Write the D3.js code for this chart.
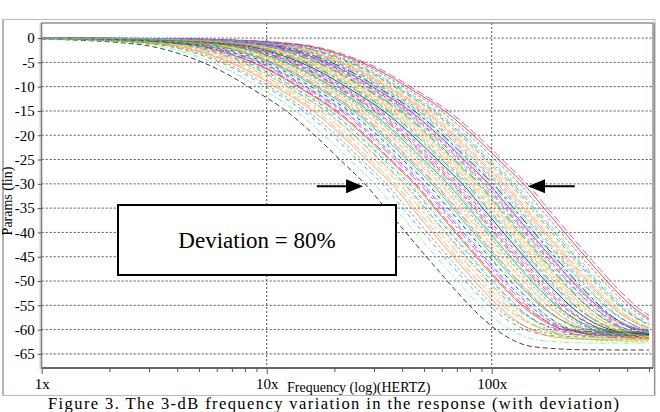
<!DOCTYPE html>
<html>
<head>
<meta charset="utf-8">
<script src="https://cdn.jsdelivr.net/npm/d3@7"></script>
<style>
  body { margin: 0; background: #fff; }
  svg text { font-family: "Liberation Serif", "Times New Roman", Times, "DejaVu Serif", serif !important; }
</style>
</head>
<body>
<svg id="chart" width="660" height="412"></svg>
<script>
// response shape, offset in decades from the -30 crossing
const shapeOffset = [-2.4, -1.6, -1.3, -1.1, -0.95, -0.8, -0.65, -0.5, -0.35, -0.2, -0.1, 0, 0.1, 0.2, 0.3, 0.4, 0.5, 0.6, 0.75, 1.0, 1.4];
const shapeDb = [0, -0.1, -0.4, -0.9, -1.7, -3.6, -6.5, -10.5, -15.0, -21.0, -25.5, -30, -35.5, -41.0, -46.5, -52.0, -57.5, -63.0, -72, -86, -106];

// frequency where each trace crosses -30 (read left to right at the arrows)
const crossing = [27.3, 30.1, 32.6, 34.0, 35.9, 37.1, 38.8, 40.2, 41.0, 42.7, 43.5, 45.2, 46.0, 47.9, 49.1, 50.0,
  51.8, 52.6, 54.3, 55.7, 56.5, 58.4, 59.6, 61.2, 62.0, 63.9, 65.1, 66.8, 68.0, 69.5, 71.3, 72.4,
  74.0, 75.8, 77.1, 78.5, 80.6, 81.7, 83.9, 85.2, 87.0, 88.4, 90.3, 92.1, 93.6, 95.8, 97.2, 99.5,
  101.4, 103.0, 105.6, 107.9, 110.2, 112.8, 115.0, 118.3, 121.2, 124.6, 128.0, 133.1, 138.4, 143.5];

// floor reached at high frequency by each trace
const floorDb = [-64.2, -62.8, -61.6, -61.2, -62.1, -60.8, -61.4, -61.9, -60.6, -61.3, -62.4, -61.0, -60.7, -61.8, -61.2, -60.9,
  -61.5, -62.0, -60.6, -61.1, -61.7, -60.8, -61.3, -62.6, -61.0, -60.7, -61.4, -61.9, -60.9, -61.2, -61.6, -60.6,
  -61.1, -62.2, -60.8, -61.3, -61.5, -60.7, -61.0, -61.8, -60.9, -61.4, -61.2, -60.6, -61.7, -61.0, -60.8, -61.3,
  -61.9, -60.7, -61.1, -61.5, -60.6, -61.2, -60.9, -61.4, -60.7, -61.0, -60.8, -60.6, -60.9, -60.5];

const yTicks = [0, -5, -10, -15, -20, -25, -30, -35, -40, -45, -50, -55, -60, -65];
const xMajor = [1, 10, 100];
const xMajorLabels = ["1x", "10x", "100x"];
const xMinor = [2, 3, 4, 5, 6, 7, 8, 9, 20, 30, 40, 50, 60, 70, 80, 90, 200, 300, 400, 500];

// arrows marking the spread at -30.5
const arrows = [
  { from: 16.7, to: 26.8, level: -30.5 },
  { from: 234, to: 145, level: -30.5 },
];
const note = "Deviation = 80%";
const caption = "Figure 3. The 3-dB frequency variation in the response (with deviation)";

const colors = ["#000000", "#ff00ff", "#00d8f0", "#e8e000", "#ff8c00", "#70f070", "#2030ff", "#ff2020",
  "#9040ff", "#ff80c0", "#00a0a0", "#a0a0ff", "#804000", "#00b000", "#c0c000", "#808080"];
const dashes = ["5,3", "8,3", "3,2", "6,2,2,2", "10,3,3,3", null, "4,4"];

const serif = "'Liberation Serif', 'Times New Roman', serif";

const svg = d3.select("#chart");

const x = d3.scaleLog().domain([1, 521]).range([41.7, 653]);
const y = d3.scaleLinear().domain([-67.9, 3.1]).range([368, 23]);

// outer frame
svg.append("rect")
  .attr("x", 3).attr("y", 19.5)
  .attr("width", 652).attr("height", 376)
  .attr("fill", "none")
  .attr("stroke", "#c8b4bc")
  .attr("stroke-width", 1);
svg.append("line")
  .attr("x1", 3).attr("x2", 3).attr("y1", 19.5).attr("y2", 395)
  .attr("stroke", "#888");

// grid
svg.append("g")
  .selectAll("line")
  .data(yTicks)
  .enter()
  .append("line")
  .attr("x1", x.range()[0]).attr("x2", x.range()[1])
  .attr("y1", d => y(d)).attr("y2", d => y(d))
  .attr("stroke", "#555")
  .attr("stroke-dasharray", "2,2");

svg.append("g")
  .selectAll("line")
  .data(xMajor.slice(1))
  .enter()
  .append("line")
  .attr("x1", d => x(d)).attr("x2", d => x(d))
  .attr("y1", y.range()[1]).attr("y2", y.range()[0])
  .attr("stroke", "#555")
  .attr("stroke-dasharray", "2,2");

// traces
svg.append("clipPath")
  .attr("id", "trace-clip")
  .append("rect")
  .attr("x", x(1)).attr("y", y.range()[1])
  .attr("width", x(500) - x(1)).attr("height", y.range()[0] - y.range()[1]);

const line = d3.line()
  .x(d => x(d.f))
  .y(d => y(d.v))
  .curve(d3.curveMonotoneX);

const trace = (f30, fl) => shapeOffset.map((o, i) => ({
  f: f30 * Math.pow(10, o),
  v: 10 * Math.log10(Math.pow(10, shapeDb[i] / 10) + Math.pow(10, fl / 10)),
}));

const order = d3.range(crossing.length).sort((a, b) => ((a * 7) % 11) - ((b * 7) % 11));

svg.append("g")
  .attr("clip-path", "url(#trace-clip)")
  .selectAll("path")
  .data(order)
  .enter()
  .append("path")
  .attr("d", i => line(trace(crossing[i], floorDb[i])))
  .attr("fill", "none")
  .attr("stroke", i => colors[(i * 5) % colors.length])
  .attr("stroke-width", 1)
  .attr("stroke-opacity", 0.75)
  .attr("stroke-dasharray", i => dashes[(i * 3) % dashes.length]);

// plot border
svg.append("rect")
  .attr("x", x.range()[0]).attr("y", y.range()[1])
  .attr("width", x.range()[1] - x.range()[0])
  .attr("height", y.range()[0] - y.range()[1])
  .attr("fill", "none")
  .attr("stroke", "#777")
  .attr("stroke-width", 1.2);
svg.append("line")
  .attr("x1", x.range()[0]).attr("x2", x.range()[1])
  .attr("y1", y.range()[0]).attr("y2", y.range()[0])
  .attr("stroke", "#666")
  .attr("stroke-width", 2);
svg.append("line")
  .attr("x1", 654.5).attr("x2", 654.5).attr("y1", y.range()[1]).attr("y2", 395)
  .attr("stroke", "#a08890")
  .attr("stroke-width", 1.2);

// axes
const yAxis = svg.append("g")
  .attr("transform", `translate(${x.range()[0]},0)`)
  .call(d3.axisLeft(y).tickValues(yTicks).tickSize(4).tickSizeOuter(0).tickPadding(3)
    .tickFormat(d => String(d)));
yAxis.attr("font-family", serif).attr("font-size", 15);
yAxis.select(".domain")
  .attr("transform", "translate(-2,0)")
  .attr("stroke", "#666")
  .attr("stroke-dasharray", "1,1");
yAxis.selectAll(".tick line").attr("stroke", "#555");
yAxis.selectAll(".tick text").attr("fill", "#000");

const xMinorAxis = svg.append("g")
  .attr("transform", `translate(0,${y.range()[0]})`)
  .call(d3.axisBottom(x).tickValues(xMinor).tickSize(4).tickSizeOuter(0).tickFormat(""));
xMinorAxis.select(".domain").remove();
xMinorAxis.selectAll(".tick line").attr("stroke", "#555");

const xAxis = svg.append("g")
  .attr("transform", `translate(0,${y.range()[0]})`)
  .call(d3.axisBottom(x).tickValues(xMajor).tickSize(6).tickSizeOuter(0).tickPadding(4)
    .tickFormat((d, i) => xMajorLabels[i]));
xAxis.attr("font-family", serif).attr("font-size", 15);
xAxis.select(".domain").remove();
xAxis.selectAll(".tick line").attr("stroke", "#555");
xAxis.selectAll(".tick text").attr("fill", "#000");

svg.append("text")
  .attr("x", 287).attr("y", 392)
  .attr("font-family", serif)
  .attr("font-size", 14)
  .text("Frequency (log)(HERTZ)");

svg.append("text")
  .attr("transform", "translate(12,201) rotate(-90)")
  .attr("text-anchor", "middle")
  .attr("font-family", serif)
  .attr("font-size", 14)
  .text("Params (lin)");

// annotation
svg.append("rect")
  .attr("x", 118).attr("y", 205)
  .attr("width", 278).attr("height", 70)
  .attr("fill", "#fff")
  .attr("stroke", "#000")
  .attr("stroke-width", 2);
svg.append("text")
  .attr("x", 257).attr("y", 248)
  .attr("text-anchor", "middle")
  .attr("font-family", serif)
  .attr("font-size", 23)
  .text(note);

const arrowGroup = svg.append("g")
  .selectAll("g")
  .data(arrows)
  .enter()
  .append("g");

arrowGroup.append("line")
  .attr("x1", d => x(d.from))
  .attr("x2", d => x(d.to) - Math.sign(x(d.to) - x(d.from)) * 12)
  .attr("y1", d => y(d.level)).attr("y2", d => y(d.level))
  .attr("stroke", "#000")
  .attr("stroke-width", 2);

arrowGroup.append("path")
  .attr("d", d => {
    const tip = x(d.to);
    const back = tip - Math.sign(x(d.to) - x(d.from)) * 17;
    const yy = y(d.level);
    return `M${tip},${yy}L${back},${yy - 7}L${back},${yy + 7}Z`;
  })
  .attr("fill", "#000");

svg.append("text")
  .attr("x", 48).attr("y", 408.5)
  .attr("textLength", 571)
  .attr("lengthAdjust", "spacing")
  .attr("font-family", serif)
  .attr("font-size", 16.5)
  .text(caption);
</script>
</body>
</html>
